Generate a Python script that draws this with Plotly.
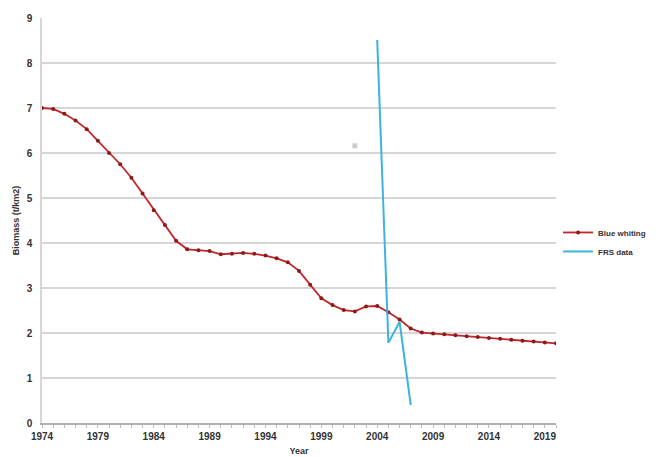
import plotly.graph_objects as go

years = list(range(1974, 2021))
blue_whiting = [7.00, 6.98, 6.87, 6.72, 6.53, 6.27, 6.00, 5.75, 5.45, 5.10,
                4.73, 4.40, 4.05, 3.86, 3.84, 3.82, 3.75, 3.76, 3.78, 3.76,
                3.72, 3.66, 3.57, 3.38, 3.07, 2.77, 2.62, 2.51, 2.48, 2.59,
                2.60, 2.46, 2.30, 2.10, 2.01, 1.99, 1.97, 1.95, 1.93, 1.91,
                1.89, 1.87, 1.85, 1.83, 1.81, 1.79, 1.77]
frs_years = [2004, 2005, 2006, 2007]
frs_data = [8.51, 1.78, 2.25, 0.40]
extra_year = [2002]
extra_val = [6.16]

label_years = list(range(1974, 2021, 5))
tick_text = [str(y) if y in label_years else "" for y in years]

fig = go.Figure()
fig.add_trace(go.Scatter(
    x=years, y=blue_whiting, name="Blue whiting", mode="lines+markers",
    line=dict(color="#c0262b", width=1.8),
    marker=dict(color="#8b1a1a", size=4),
))
fig.add_trace(go.Scatter(
    x=frs_years, y=frs_data, name="FRS data", mode="lines",
    line=dict(color="#3cb4dc", width=2),
))
fig.add_trace(go.Scatter(
    x=extra_year, y=extra_val, mode="markers", showlegend=False,
    marker=dict(color="#cccccc", size=5, symbol="square"),
))

fam = "Liberation Sans, Arial, sans-serif"
font = dict(family=fam, size=9, color="#333333", weight="bold")

fig.update_layout(
    width=662, height=457,
    margin=dict(l=34, r=114, t=10, b=42),
    paper_bgcolor="white", plot_bgcolor="white",
    font=font,
    showlegend=True,
    legend=dict(x=1.004, y=0.447, xanchor="left", yanchor="middle",
                font=dict(size=8, family=fam, color="#333333", weight="bold"),
                tracegroupgap=0),
    xaxis=dict(
        range=[1974, 2020], tickmode="array", tickvals=years, ticktext=tick_text,
        showgrid=False, zeroline=False, automargin=False,
        showline=True, linecolor="#b0b0b0", linewidth=1.5,
        ticks="outside", ticklen=3, tickcolor="#c0c0c0",
        tickfont=dict(size=10), title=dict(text="Year", standoff=7, font=dict(size=9)),
    ),
    yaxis=dict(
        range=[0, 9], tickmode="array", tickvals=list(range(0, 10)),
        showgrid=True, gridcolor="#d6d6d6", gridwidth=1.5, automargin=False,
        zeroline=False, showline=True, linecolor="#d6d6d6", linewidth=1.5,
        ticks="", tickfont=dict(size=10), ticklabelstandoff=6,
        title=dict(text="Biomass (t/km2)", standoff=6, font=dict(size=9)),
    ),
)

fig.write_html("out.html")
